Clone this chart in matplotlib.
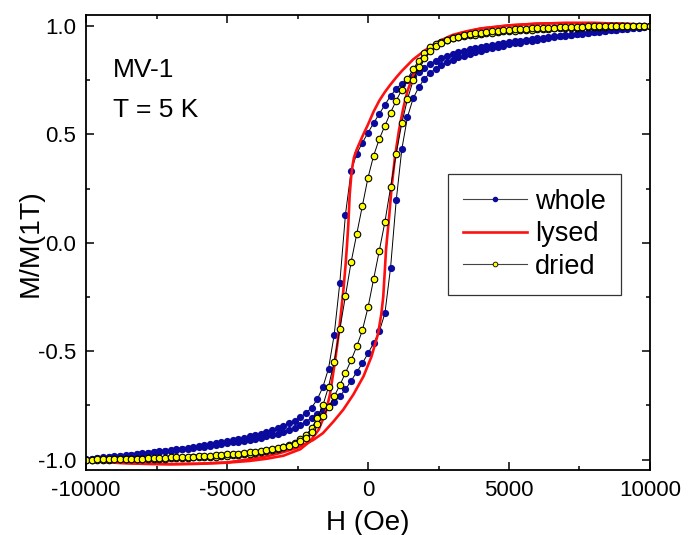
import matplotlib
matplotlib.use("Agg")
import matplotlib.pyplot as plt
from matplotlib.ticker import MultipleLocator

plt.rcParams['font.family'] = ['Liberation Sans', 'DejaVu Sans']
plt.rcParams['axes.unicode_minus'] = False

# Field sweep (Oe): 10 kOe down to -10 kOe in 200 Oe steps
field_down = [10000, 9800, 9600, 9400, 9200, 9000, 8800, 8600, 8400, 8200,
              8000, 7800, 7600, 7400, 7200, 7000, 6800, 6600, 6400, 6200,
              6000, 5800, 5600, 5400, 5200, 5000, 4800, 4600, 4400, 4200,
              4000, 3800, 3600, 3400, 3200, 3000, 2800, 2600, 2400, 2200,
              2000, 1800, 1600, 1400, 1200, 1000, 800, 600, 400, 200,
              0, -200, -400, -600, -800, -1000, -1200, -1400, -1600, -1800,
              -2000, -2200, -2400, -2600, -2800, -3000, -3200, -3400, -3600, -3800,
              -4000, -4200, -4400, -4600, -4800, -5000, -5200, -5400, -5600, -5800,
              -6000, -6200, -6400, -6600, -6800, -7000, -7200, -7400, -7600, -7800,
              -8000, -8200, -8400, -8600, -8800, -9000, -9200, -9400, -9600, -9800,
              -10000]
field_up = field_down[::-1]

# whole cells: descending and ascending branches, M/M(1T)
whole_down = [1.000, 0.995, 0.992, 0.989, 0.987, 0.984, 0.982, 0.979, 0.977, 0.974,
              0.971, 0.968, 0.966, 0.963, 0.960, 0.957, 0.954, 0.951, 0.948, 0.945,
              0.942, 0.939, 0.935, 0.932, 0.928, 0.924, 0.920, 0.916, 0.912, 0.907,
              0.903, 0.898, 0.892, 0.886, 0.879, 0.871, 0.862, 0.852, 0.839, 0.825,
              0.805, 0.787, 0.770, 0.752, 0.734, 0.710, 0.677, 0.636, 0.594, 0.552,
              0.507, 0.461, 0.410, 0.330, 0.130, -0.185, -0.425, -0.580, -0.665, -0.722,
              -0.760, -0.785, -0.805, -0.820, -0.833, -0.845, -0.855, -0.864, -0.872, -0.880,
              -0.887, -0.893, -0.899, -0.905, -0.910, -0.915, -0.920, -0.924, -0.929, -0.933,
              -0.937, -0.941, -0.945, -0.949, -0.952, -0.956, -0.959, -0.962, -0.965, -0.968,
              -0.971, -0.974, -0.977, -0.980, -0.983, -0.985, -0.988, -0.990, -0.993, -0.996,
              -0.999]
whole_up = [-1.000, -0.996, -0.993, -0.991, -0.988, -0.986, -0.983, -0.981, -0.978, -0.975,
            -0.972, -0.969, -0.967, -0.964, -0.961, -0.958, -0.955, -0.952, -0.949, -0.946,
            -0.943, -0.940, -0.936, -0.933, -0.929, -0.925, -0.921, -0.917, -0.913, -0.908,
            -0.904, -0.899, -0.893, -0.887, -0.880, -0.872, -0.863, -0.853, -0.840, -0.826,
            -0.806, -0.788, -0.771, -0.753, -0.734, -0.708, -0.676, -0.637, -0.596, -0.556,
            -0.510, -0.463, -0.409, -0.325, -0.115, 0.195, 0.432, 0.580, 0.665, 0.717,
            0.756, 0.782, 0.803, 0.819, 0.832, 0.844, 0.854, 0.863, 0.871, 0.879,
            0.886, 0.892, 0.898, 0.904, 0.909, 0.914, 0.919, 0.923, 0.928, 0.932,
            0.936, 0.940, 0.944, 0.948, 0.951, 0.955, 0.958, 0.961, 0.964, 0.967,
            0.970, 0.973, 0.976, 0.979, 0.982, 0.985, 0.988, 0.990, 0.993, 0.996,
            0.999]

# dried cells
dried_down = [1.000, 1.000, 0.999, 0.999, 0.998, 0.998, 0.997, 0.997, 0.996, 0.995,
              0.995, 0.994, 0.993, 0.992, 0.991, 0.990, 0.989, 0.988, 0.987, 0.986,
              0.985, 0.983, 0.982, 0.980, 0.978, 0.976, 0.974, 0.972, 0.969, 0.966,
              0.963, 0.960, 0.956, 0.952, 0.947, 0.942, 0.935, 0.927, 0.916, 0.901,
              0.875, 0.840, 0.800, 0.755, 0.706, 0.655, 0.600, 0.540, 0.478, 0.402,
              0.300, 0.170, 0.040, -0.090, -0.245, -0.400, -0.548, -0.664, -0.750, -0.808,
              -0.856, -0.886, -0.907, -0.922, -0.934, -0.943, -0.950, -0.956, -0.961, -0.965,
              -0.969, -0.972, -0.975, -0.978, -0.980, -0.982, -0.984, -0.986, -0.987, -0.988,
              -0.989, -0.990, -0.991, -0.992, -0.993, -0.994, -0.995, -0.995, -0.996, -0.997,
              -0.997, -0.998, -0.998, -0.999, -0.999, -0.999, -1.000, -1.000, -1.000, -1.000,
              -1.000]
dried_up = [-1.000, -1.000, -0.999, -0.999, -0.998, -0.998, -0.997, -0.997, -0.996, -0.995,
            -0.995, -0.994, -0.993, -0.992, -0.991, -0.990, -0.989, -0.988, -0.987, -0.986,
            -0.985, -0.983, -0.982, -0.980, -0.978, -0.976, -0.974, -0.972, -0.969, -0.966,
            -0.963, -0.960, -0.956, -0.952, -0.947, -0.942, -0.935, -0.927, -0.916, -0.901,
            -0.872, -0.835, -0.800, -0.759, -0.708, -0.657, -0.600, -0.542, -0.478, -0.404,
            -0.298, -0.167, -0.037, 0.096, 0.255, 0.410, 0.552, 0.662, 0.748, 0.812,
            0.853, 0.884, 0.906, 0.922, 0.934, 0.943, 0.950, 0.956, 0.961, 0.965,
            0.969, 0.972, 0.975, 0.978, 0.980, 0.982, 0.984, 0.986, 0.987, 0.988,
            0.989, 0.990, 0.991, 0.992, 0.993, 0.994, 0.995, 0.995, 0.996, 0.997,
            0.997, 0.998, 0.998, 0.999, 0.999, 0.999, 1.000, 1.000, 1.000, 1.000,
            1.000]

# lysed cells (continuous trace)
lysed_down_h = [10000, 9000, 8000, 7000, 6000, 5000, 4000, 3500, 3000, 2500,
                2000, 1600, 1200, 1000, 800, 600, 400, 200, 0, -200,
                -400, -500, -550, -600, -650, -700, -750, -800, -875, -1000,
                -1100, -1200, -1350, -1500, -1750, -2050, -2400, -3000, -3600, -4200,
                -5000, -6000, -7000, -8000, -9000, -10000]
lysed_down_m = [1.003, 1.010, 1.013, 1.013, 1.010, 1.002, 0.988, 0.975, 0.958, 0.928,
                0.885, 0.845, 0.792, 0.762, 0.730, 0.695, 0.655, 0.605, 0.545, 0.490,
                0.430, 0.392, 0.355, 0.300, 0.220, 0.080, -0.020, -0.110, -0.220, -0.375,
                -0.480, -0.572, -0.700, -0.782, -0.862, -0.915, -0.952, -0.982, -0.996, -1.006,
                -1.014, -1.019, -1.021, -1.019, -1.014, -1.005]
lysed_up_h = [-10000, -9000, -8000, -7000, -6000, -5000, -4300, -3600, -3100, -2500,
              -1950, -1600, -1230, -880, -520, -160, 120, 360, 470, 540,
              600, 640, 690, 750, 840, 960, 1100, 1250, 1400, 1600,
              1800, 2100, 2400, 2800, 3300, 4000, 5000, 6000, 7000, 8000,
              9000, 10000]
lysed_up_m = [-1.005, -1.014, -1.019, -1.021, -1.019, -1.013, -1.000, -0.985, -0.969, -0.945,
              -0.910, -0.878, -0.825, -0.770, -0.700, -0.616, -0.526, -0.418, -0.330, -0.250,
              -0.120, -0.030, 0.040, 0.120, 0.260, 0.400, 0.520, 0.620, 0.700, 0.770,
              0.820, 0.868, 0.905, 0.940, 0.967, 0.987, 1.002, 1.010, 1.013, 1.013,
              1.010, 1.003]

fig = plt.figure(figsize=(6.96, 5.35), dpi=100)
ax = fig.add_axes([0.1236, 0.1206, 0.8103, 0.8514])

blue = '#0a0a9e'
red = '#ff1010'
line_kw = dict(color='black', lw=0.7)

# whole
ax.plot(field_down, whole_down, marker='o', ms=5.2, mfc=blue, mec=blue, mew=0, **line_kw)
ax.plot(field_up, whole_up, marker='o', ms=5.2, mfc=blue, mec=blue, mew=0, **line_kw)
# lysed
ax.plot(lysed_down_h, lysed_down_m, color=red, lw=1.9)
ax.plot(lysed_up_h, lysed_up_m, color=red, lw=1.9)
# dried
ax.plot(field_down, dried_down, marker='o', ms=4.7, mfc='#ffff00', mec='black', mew=0.8, **line_kw)
ax.plot(field_up, dried_up, marker='o', ms=4.7, mfc='#ffff00', mec='black', mew=0.8, **line_kw)

# legend proxies
h1, = ax.plot([], [], marker='o', ms=4.0, mfc=blue, mec=blue, mew=0, color='#444444', lw=0.8)
h2, = ax.plot([], [], color=red, lw=1.9)
h3, = ax.plot([], [], marker='o', ms=3.4, mfc='#ffff00', mec='black', mew=0.6, color='#444444', lw=0.8)
leg = ax.legend([h1, h2, h3], ['whole', 'lysed', 'dried'], loc='upper left',
                bbox_to_anchor=(0.642, 0.651), fontsize=19.5, numpoints=1,
                handlelength=2.35, handletextpad=0.3, labelspacing=0.24,
                borderpad=0.55, borderaxespad=0, fancybox=False, frameon=True)
leg.get_frame().set_edgecolor('black')
leg.get_frame().set_linewidth(0.9)

ax.set_xlim(-10000, 10000)
ax.set_ylim(-1.05, 1.05)
ax.xaxis.set_major_locator(MultipleLocator(5000))
ax.xaxis.set_minor_locator(MultipleLocator(2500))
ax.yaxis.set_major_locator(MultipleLocator(0.5))
ax.yaxis.set_minor_locator(MultipleLocator(0.25))
ax.tick_params(which='both', direction='in', top=True, right=True, width=1.1,
               labelsize=16, colors='black')
ax.tick_params(which='major', length=5.5, pad=7)
ax.tick_params(which='minor', length=3.2)
for s in ax.spines.values():
    s.set_linewidth(1.3)

ax.set_xlabel('H (Oe)', fontsize=20, labelpad=6)
ax.set_ylabel('M/M(1T)', fontsize=20.5)
ax.yaxis.set_label_coords(-0.076, 0.5)

ax.text(0.048, 0.864, 'MV-1', transform=ax.transAxes, fontsize=19, va='baseline')
ax.text(0.048, 0.776, 'T = 5 K', transform=ax.transAxes, fontsize=19, va='baseline')

fig.savefig('out.png', dpi=100)
